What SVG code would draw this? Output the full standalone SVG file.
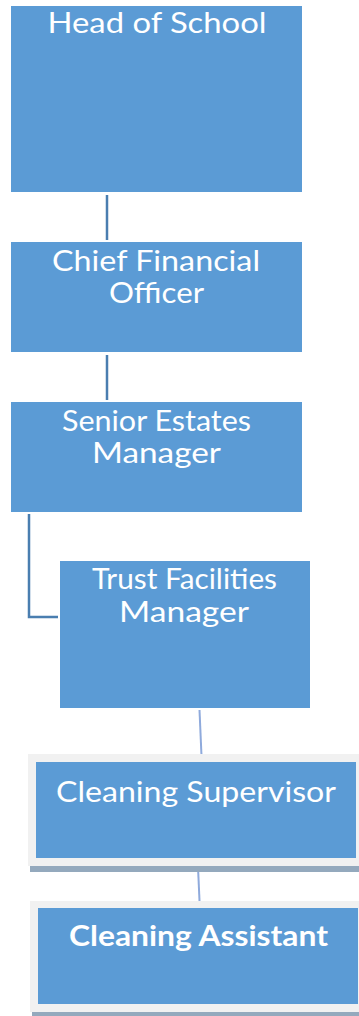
<svg xmlns="http://www.w3.org/2000/svg" width="359" height="1016" viewBox="0 0 359 1016">
  <style>
    .box { fill: #5B9BD5; }
    .frame { fill: #F1F1F1; }
    .shadow { fill: #94A9BD; }
    .lbl { font-family: Lato, "Open Sans", "Liberation Sans", sans-serif; font-size: 28px; font-weight: 400; fill: #FFFFFF; }
    .bold { font-weight: bold; }
    .link { fill: none; stroke: #4A7EB0; stroke-width: 2.5; }
    .link-soft { fill: none; stroke: #8FAADC; stroke-width: 2; }
  </style>

  <!-- reporting lines -->
  <g id="connectors">
    <line class="link" x1="107" y1="195" x2="107" y2="240"/>
    <line class="link" x1="107" y1="355" x2="107" y2="400"/>
    <polyline class="link" points="29,514 29,617 58,617"/>
    <line class="link-soft" x1="199.5" y1="710" x2="201.5" y2="756"/>
    <line class="link-soft" x1="198" y1="867" x2="200" y2="912"/>
  </g>

  <g id="head-of-school">
    <rect class="box" x="11" y="6" width="291" height="186"/>
    <text class="lbl" x="157" y="33" text-anchor="middle" textLength="219" lengthAdjust="spacingAndGlyphs">Head of School</text>
  </g>

  <g id="chief-financial-officer">
    <rect class="box" x="11" y="242" width="291" height="110"/>
    <text class="lbl" x="156" y="271" text-anchor="middle" textLength="208" lengthAdjust="spacingAndGlyphs">Chief Financial</text>
    <text class="lbl" x="156.5" y="303" text-anchor="middle" textLength="95" lengthAdjust="spacingAndGlyphs">Officer</text>
  </g>

  <g id="senior-estates-manager">
    <rect class="box" x="11" y="402" width="291" height="110"/>
    <text class="lbl" x="156.5" y="431" text-anchor="middle" textLength="189" lengthAdjust="spacingAndGlyphs">Senior Estates</text>
    <text class="lbl" x="156.5" y="463" text-anchor="middle" textLength="129" lengthAdjust="spacingAndGlyphs">Manager</text>
  </g>

  <g id="trust-facilities-manager">
    <rect class="box" x="60" y="561" width="250" height="147"/>
    <text class="lbl" x="184.5" y="589" text-anchor="middle" textLength="185" lengthAdjust="spacingAndGlyphs">Trust Facilities</text>
    <text class="lbl" x="184" y="622" text-anchor="middle" textLength="130" lengthAdjust="spacingAndGlyphs">Manager</text>
  </g>

  <g id="cleaning-supervisor">
    <rect class="shadow" x="30" y="866" width="329" height="6"/>
    <rect class="frame" x="28" y="754" width="331" height="112"/>
    <rect class="box" x="36" y="762" width="320" height="96"/>
    <text class="lbl" x="196" y="802" text-anchor="middle" textLength="280" lengthAdjust="spacingAndGlyphs">Cleaning Supervisor</text>
  </g>

  <g id="cleaning-assistant">
    <rect class="shadow" x="32" y="1011" width="327" height="5"/>
    <rect class="frame" x="30" y="901" width="329" height="111"/>
    <rect class="box" x="38" y="908" width="320" height="96"/>
    <text class="lbl bold" x="198.5" y="946" text-anchor="middle" textLength="259" lengthAdjust="spacingAndGlyphs">Cleaning Assistant</text>
  </g>
</svg>
